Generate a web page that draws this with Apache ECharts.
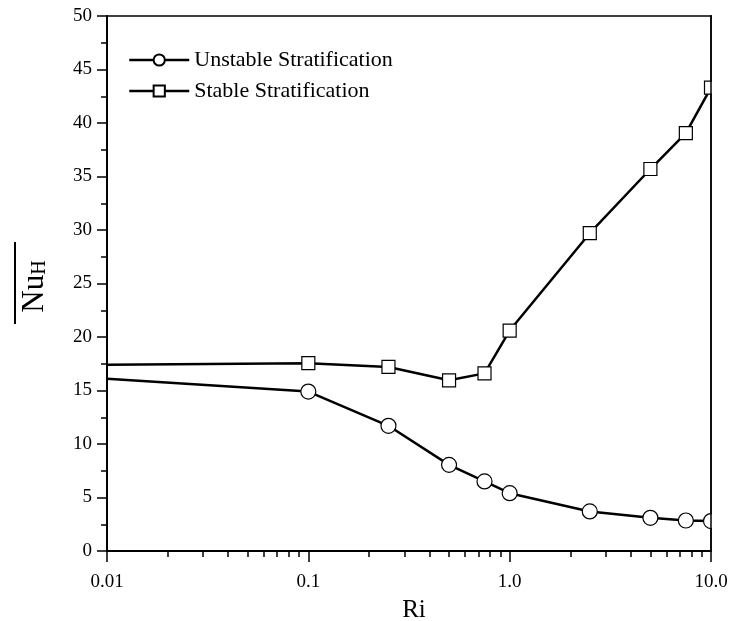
<!DOCTYPE html>
<html><head><meta charset="utf-8">
<script src="https://cdn.jsdelivr.net/npm/echarts@6/dist/echarts.min.js"></script>
<style>html,body{margin:0;padding:0;background:#fff}#c{width:730px;height:621px}</style>
</head><body><div id="c"></div>
<script>
var riUnstable = [0.01, 0.1, 0.25, 0.5, 0.75, 1.0, 2.5, 5, 7.5, 10];
var nuUnstable = [16.1, 14.9, 11.7, 8.05, 6.5, 5.4, 3.7, 3.1, 2.85, 2.8];
var riStable = [0.01, 0.1, 0.25, 0.5, 0.75, 1.0, 2.5, 5, 7.5, 10];
var nuStable = [17.4, 17.55, 17.2, 15.95, 16.6, 20.6, 29.7, 35.7, 39.05, 43.3];
var xTickLabels = {0.01: '0.01', 0.1: '0.1', 1: '1.0', 10: '10.0'};
var xMinorTicks = [0.02,0.03,0.04,0.05,0.06,0.07,0.08,0.09,0.2,0.3,0.4,0.5,0.6,0.7,0.8,0.9,2,3,4,5,6,7,8,9];

function pts(xs, ys) {
  return xs.map(function (x, i) {
    var d = {value: [x, ys[i]]};
    if (i === 0) d.symbol = 'none';
    return d;
  });
}
var FONT = '"Liberation Serif", "Times New Roman", serif';
var chart = echarts.init(document.getElementById('c'));
chart.setOption({
  animation: false,
  backgroundColor: '#fff',
  textStyle: {fontFamily: FONT, color: '#000'},
  grid: {left: 107, top: 16, right: 19, bottom: 70, outerBoundsMode: 'none', containLabel: false,
    show: true, borderColor: '#000', borderWidth: 1.5, backgroundColor: 'transparent'},
  legend: {
    orient: 'vertical', left: 128, top: 49, padding: 0, itemWidth: 60, itemHeight: 14, itemGap: 9,
    lineStyle: {width: 2.5, color: '#000'},
    textStyle: {fontFamily: FONT, fontSize: 22, color: '#000'},
    data: ['Unstable Stratification', 'Stable Stratification']
  },
  xAxis: [{
    type: 'log', logBase: 10, min: 0.01, max: 10,
    name: 'Ri', nameLocation: 'middle', nameGap: 47,
    nameTextStyle: {fontFamily: FONT, fontSize: 25, color: '#000', padding: [0, 0, 0, 10]},
    axisLine: {lineStyle: {color: '#000', width: 2}},
    axisTick: {inside: false, length: 11, lineStyle: {color: '#000', width: 1.5}},
    axisLabel: {margin: 22, fontFamily: FONT, fontSize: 19, color: '#000',
      formatter: function (v) { var k = Math.round(Math.log10(v)); return xTickLabels[Math.pow(10, k)] || ''; }},
    splitLine: {show: false}
  }, {
    type: 'log', logBase: 10, min: 0.01, max: 10, position: 'bottom',
    axisLine: {show: false},
    axisTick: {show: true, length: 6, customValues: xMinorTicks, lineStyle: {color: '#000', width: 1.5}},
    axisLabel: {show: false},
    splitLine: {show: false}
  }],
  yAxis: {
    type: 'value', min: 0, max: 50, interval: 5,
    name: '{a|Nu}{b|H}', nameLocation: 'middle', nameGap: 57, nameRotate: 90,
    nameTextStyle: {fontFamily: FONT, color: '#000', padding: [0, 0, 0, -6],
      rich: {a: {fontFamily: FONT, fontSize: 31, color: '#000'},
             b: {fontFamily: FONT, fontSize: 20, color: '#000', padding: [11, 0, 0, 0]}}},
    axisLine: {lineStyle: {color: '#000', width: 2}},
    axisTick: {length: 10, lineStyle: {color: '#000', width: 1.5}},
    minorTick: {show: true, splitNumber: 2, length: 6, lineStyle: {color: '#000', width: 1.5}},
    axisLabel: {margin: 15, fontFamily: FONT, fontSize: 19, color: '#000'},
    splitLine: {show: false}
  },
  graphic: [
    {type: 'rect', shape: {x: 712, y: 0, width: 18, height: 560}, style: {fill: '#fff'}, z: 100},
    {type: 'line', shape: {x1: 711, y1: 15, x2: 711, y2: 551}, style: {stroke: '#000', lineWidth: 1.5}, z: 101},
    {type: 'line', shape: {x1: 15, y1: 242, x2: 15, y2: 324}, style: {stroke: '#000', lineWidth: 2}, z: 101}
  ],
  series: [{
    name: 'Unstable Stratification', type: 'line', clip: false,
    data: pts(riUnstable, nuUnstable),
    symbol: 'circle', symbolSize: 15,
    lineStyle: {color: '#000', width: 2.5},
    itemStyle: {color: '#fff', borderColor: '#000', borderWidth: 1.2}
  }, {
    name: 'Stable Stratification', type: 'line', clip: false,
    data: pts(riStable, nuStable),
    symbol: 'rect', symbolSize: 13,
    lineStyle: {color: '#000', width: 2.5},
    itemStyle: {color: '#fff', borderColor: '#000', borderWidth: 1.2}
  }]
});
</script></body></html>
